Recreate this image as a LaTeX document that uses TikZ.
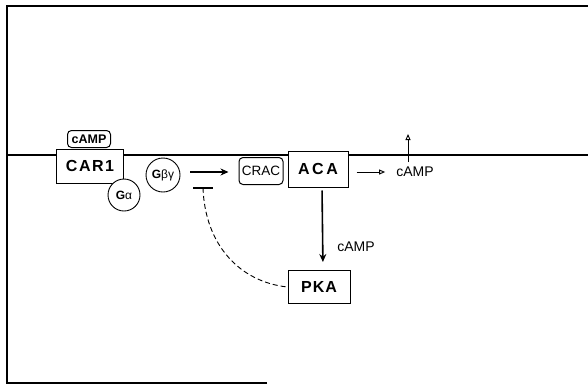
\documentclass[tikz,border=0pt]{standalone}
\usepackage{fontspec}
\setmainfont{Liberation Sans}
\usetikzlibrary{arrows.meta}
\begin{document}
\begin{tikzpicture}[x=1pt,y=-1pt,
  bigbox/.style={draw,line width=1pt,fill=white,font=\fontsize{16}{18}\selectfont\bfseries,inner sep=0pt},
  rbox/.style={draw,line width=1pt,fill=white,rounded corners=4pt,inner sep=0pt},
  gcirc/.style={draw,circle,line width=0.9pt,fill=white,inner sep=0pt,font=\fontsize{12}{13}\selectfont},
  lbl/.style={font=\fontsize{14}{15}\selectfont,inner sep=0pt},
  solidarr/.style={line width=1.6pt,-{Stealth[length=8pt,width=7pt]}},
  openarr/.style={line width=0.9pt,-{Triangle[open,length=6pt,width=5pt]}}]
\useasboundingbox (0,0) rectangle (588,386);
% frame
\draw[line width=1.5pt] (267,383) -- (7,383) -- (7,6) -- (588,6);
% membrane
\draw[line width=1.2pt] (7,155) -- (588,155);
% nodes
\node[rbox,minimum width=43pt,minimum height=17pt,font=\fontsize{12.5}{13}\selectfont\bfseries] (camp1) at (89,139) {cAMP};
\node[bigbox,minimum width=67pt,minimum height=34pt] (car1) at (90,166) {C\kern1.5pt A\kern1.5pt R\kern1.5pt 1};
\node[gcirc,minimum size=32pt] (ga) at (124,195) {\textbf{G}α};
\node[gcirc,minimum size=34pt] (gbg) at (163,175) {\textbf{G}βγ};
\node[rbox,minimum width=44pt,minimum height=27pt,font=\fontsize{13.5}{15}\selectfont] (crac) at (261,171) {CRAC};
\node[bigbox,minimum width=60pt,minimum height=36pt] (aca) at (318,169) {A\,C\,A};
\node[bigbox,minimum width=62pt,minimum height=33pt] (pka) at (319,287) {P\kern1pt K\kern1pt A};
\node[lbl] (camp2) at (415,172) {cAMP};
\node[lbl] (camp3) at (356,247) {cAMP};
\coordinate (bar) at (203,188);
\coordinate (upbase) at (408,162);
\coordinate (up) at (408,134);
% connectors
\draw[solidarr,shorten <=10pt,shorten >=10pt] (gbg.east |- 0,172) -- (crac.west |- 0,172);
\draw[line width=2pt] ([xshift=-10pt]bar) -- ([xshift=10pt]bar);
\draw[line width=0.9pt,dash pattern=on 5pt off 3pt] (bar) .. controls (205,245) and (240,282) .. (pka.west);
\draw[openarr,shorten <=8pt,shorten >=11pt] (aca.east |- 0,172) -- (camp2.west |- 0,172);
\draw[openarr] (upbase) -- (up);
\draw[solidarr,shorten <=3pt,shorten >=8pt] ([xshift=4pt]aca.south) -- ([xshift=4pt]pka.north);
\end{tikzpicture}
\end{document}
